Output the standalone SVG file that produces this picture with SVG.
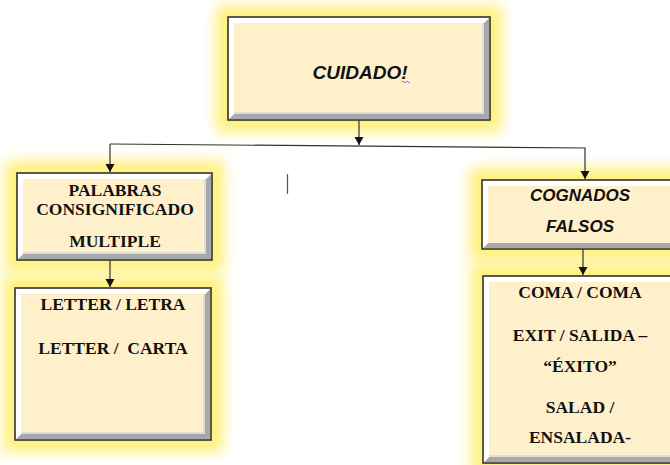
<svg xmlns="http://www.w3.org/2000/svg" width="670" height="465" viewBox="0 0 670 465">
<defs>
<filter id="glow" x="-40%" y="-40%" width="180%" height="180%">
<feGaussianBlur stdDeviation="7"/>
</filter>
<marker id="arr" markerUnits="userSpaceOnUse" markerWidth="9" markerHeight="10" refX="8" refY="4.5" orient="auto">
<path d="M0,0 L8,4.5 L0,9 Z" fill="#111"/>
</marker>
</defs>
<style>
.glow{fill:#fff07a;filter:url(#glow)}
.box{fill:#fff0cc;stroke:#333;stroke-width:1.6}
.hi{fill:#ffffff}
.sh{fill:#a8a8a8}
.sh2{fill:none;stroke:#d6d6d6;stroke-width:1.5}
.tb{font-family:"Liberation Serif","Times New Roman",serif;font-weight:bold;font-size:17.5px;fill:#111;text-anchor:middle}
.ai{font-family:"Liberation Sans",Arial,sans-serif;font-weight:bold;font-style:italic;fill:#111;text-anchor:middle}
.ln{fill:none;stroke:#333;stroke-width:1.2}
</style>

<g id="cuidado">
<rect class="glow" x="216" y="6" width="286" height="126"/>
<rect class="box" x="228" y="17" width="262" height="103"/>
<polygon class="sh" points="489,18 489,119 229,119 234,114 484,114 484,23"/>
<polyline class="sh2" points="233,113 483,113 483,22"/>
<polygon class="hi" points="229,18 489,18 484,23 234,23 234,114 229,119"/>
<text class="ai" x="360" y="79" font-size="19">CUIDADO!</text>
<path d="M402,82 q1,-1.5 2,0 t2,0 t2,0 t2,0" fill="none" stroke="#6a6af0" stroke-width="0.9"/>
</g>

<g id="palabras">
<rect class="glow" x="5" y="161" width="219" height="111"/>
<rect class="box" x="17" y="173" width="195" height="87"/>
<polygon class="sh" points="211,174 211,259 18,259 23,254 206,254 206,179"/>
<polyline class="sh2" points="22,253 205,253 205,178"/>
<polygon class="hi" points="18,174 211,174 206,179 23,179 23,254 18,259"/>
<text class="tb" x="115" y="196">PALABRAS</text>
<text class="tb" x="115" y="215">CONSIGNIFICADO</text>
<text class="tb" x="115" y="247">MULTIPLE</text>
</g>

<g id="letter">
<rect class="glow" x="3" y="276" width="220" height="176"/>
<rect class="box" x="15" y="288" width="196" height="152"/>
<polygon class="sh" points="210,289 210,439 16,439 21,434 205,434 205,294"/>
<polyline class="sh2" points="20,433 204,433 204,293"/>
<polygon class="hi" points="16,289 210,289 205,294 21,294 21,434 16,439"/>
<text class="tb" x="113" y="310">LETTER / LETRA</text>
<text class="tb" x="113" y="354" xml:space="preserve">LETTER /  CARTA</text>
</g>

<g id="cognados">
<rect class="glow" x="470" y="168" width="224" height="93"/>
<rect class="box" x="482" y="180" width="200" height="69"/>
<polygon class="sh" points="681,181 681,248 483,248 488,243 676,243 676,186"/>
<polygon class="hi" points="483,181 681,181 676,186 488,186 488,243 483,248"/>
<text class="ai" x="580" y="201" font-size="17">COGNADOS</text>
<text class="ai" x="580" y="232" font-size="17">FALSOS</text>
</g>

<g id="coma">
<rect class="glow" x="471" y="264" width="224" height="211"/>
<rect class="box" x="483" y="276" width="200" height="187"/>
<polygon class="sh" points="682,277 682,462 484,462 489,457 677,457 677,282"/>
<polyline class="sh2" points="488,456 676,456"/>
<polygon class="hi" points="484,277 682,277 677,282 489,282 489,457 484,462"/>
<text class="tb" x="580" y="298">COMA / COMA</text>
<text class="tb" x="580" y="341">EXIT / SALIDA –</text>
<text class="tb" x="580" y="372">“ÉXITO”</text>
<text class="tb" x="580" y="413">SALAD /</text>
<text class="tb" x="580" y="443">ENSALADA-</text>
</g>

<g id="connectors">
<line class="ln" x1="359" y1="120" x2="359" y2="145" marker-end="url(#arr)"/>
<polyline class="ln" points="110,144 585,148 585,179" marker-end="url(#arr)"/>
<line class="ln" x1="110" y1="144" x2="110" y2="172" marker-end="url(#arr)"/>
<line class="ln" x1="110" y1="260" x2="110" y2="287" marker-end="url(#arr)"/>
<line class="ln" x1="583" y1="249" x2="583" y2="275" marker-end="url(#arr)"/>
<line x1="287.5" y1="174" x2="287.5" y2="194" stroke="#555" stroke-width="1.2"/>
</g>
</svg>
